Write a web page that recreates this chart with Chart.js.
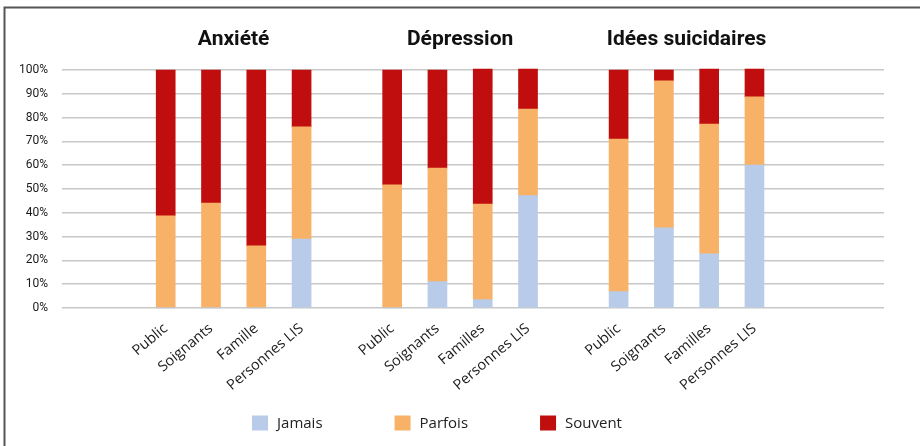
<!DOCTYPE html>
<html>
<head>
<meta charset="utf-8">
<script src="https://cdn.jsdelivr.net/npm/chart.js@4/dist/chart.umd.min.js"></script>
<style>
  html, body { margin: 0; padding: 0; background: #fff; }
  #wrap { width: 920px; height: 446px; position: relative; }
</style>
</head>
<body>
<div id="wrap"><canvas id="c"></canvas></div>
<script>
// Thematic groups and the respondents within each group
const groups = ['Anxiété', 'Dépression', 'Idées suicidaires'];
const groupLabels = [
  ['Public', 'Soignants', 'Famille', 'Personnes LIS'],
  ['Public', 'Soignants', 'Familles', 'Personnes LIS'],
  ['Public', 'Soignants', 'Familles', 'Personnes LIS']
];

// Shares (%) per answer, in the same order as the respondents above
const jamais  = [0, 0, 0, 29.0,     0, 11.1, 3.5, 47.2,     6.9, 33.7, 22.8, 60.1];
const parfois = [38.7, 44.1, 26.1, 47.1,   51.7, 47.7, 40.2, 36.4,   64.1, 61.7, 54.5, 28.6];
const souvent = [61.3, 55.9, 73.9, 23.9,   48.3, 41.2, 56.7, 16.8,   29.0, 4.6, 23.1, 11.7];

const seriesNames = ['Jamais', 'Parfois', 'Souvent'];
const yTickValues = [0, 10, 20, 30, 40, 50, 60, 70, 80, 90, 100];

// Slot of each bar on the x axis: one empty slot between groups
const GROUP_STRIDE = 5;
const positions = [];
const tickNames = [];
groupLabels.forEach((labels, gi) => {
  labels.forEach((name, i) => {
    positions.push(gi * GROUP_STRIDE + i);
    tickNames.push(name);
  });
});

const colors = ['#B8CBE9', '#F7B267', '#C00E0E'];
const seriesValues = [jamais, parfois, souvent];

const datasets = seriesNames.map((name, s) => ({
  label: name,
  data: seriesValues[s].map((v, i) => ({ x: positions[i], y: v })),
  backgroundColor: colors[s],
  borderWidth: 0,
  barThickness: 19,
  stack: 'all',
  clip: false
}));

// Frame around the figure
const framePlugin = {
  id: 'frame',
  beforeDraw(chart) {
    const ctx = chart.ctx;
    ctx.save();
    ctx.fillStyle = '#ffffff';
    ctx.fillRect(0, 0, chart.width, chart.height);
    ctx.strokeStyle = '#555555';
    ctx.lineWidth = 2;
    ctx.beginPath();
    ctx.moveTo(4.5, chart.height);
    ctx.lineTo(4.5, 7.5);
    ctx.lineTo(chart.width, 7.5);
    ctx.stroke();
    ctx.restore();
  }
};

// Group headings centred over their bars
const groupTitlePlugin = {
  id: 'groupTitles',
  afterDraw(chart) {
    const ctx = chart.ctx;
    const xs = chart.scales.x;
    ctx.save();
    ctx.fillStyle = '#111111';
    ctx.font = 'bold 21px Roboto, "DejaVu Sans", sans-serif';
    ctx.textAlign = 'center';
    ctx.textBaseline = 'middle';
    groups.forEach((g, gi) => {
      const first = gi * GROUP_STRIDE;
      const last = first + groupLabels[gi].length - 1;
      const cx = (xs.getPixelForValue(first) + xs.getPixelForValue(last)) / 2;
      ctx.fillText(g, cx, 40);
    });
    ctx.restore();
  }
};

// Legend row under the axis
const legendRowPlugin = {
  id: 'legendRow',
  afterDraw(chart) {
    const ctx = chart.ctx;
    const box = 16, boxH = 15, textGap = 9, itemGap = 72;
    ctx.save();
    ctx.font = '15px "Open Sans", sans-serif';
    ctx.textBaseline = 'middle';
    const ds = chart.data.datasets;
    const widths = ds.map(d => box + textGap + ctx.measureText(d.label).width);
    const total = widths.reduce((a, b) => a + b, 0) + itemGap * (ds.length - 1);
    let x = chart.width / 2 - 23 - total / 2;
    const cy = 423;
    ds.forEach((d, i) => {
      ctx.fillStyle = d.backgroundColor;
      ctx.fillRect(x, cy - boxH / 2, box, boxH);
      ctx.fillStyle = '#222222';
      ctx.fillText(d.label, x + box + textGap, cy + 1);
      x += widths[i] + itemGap;
    });
    ctx.restore();
  }
};

new Chart(document.getElementById('c'), {
  type: 'bar',
  data: { datasets },
  plugins: [framePlugin, groupTitlePlugin, legendRowPlugin],
  options: {
    responsive: true,
    maintainAspectRatio: false,
    animation: false,
    layout: { padding: { top: 70, right: 36, bottom: 43, left: 0 } },
    plugins: {
      legend: { display: false },
      tooltip: { enabled: false }
    },
    scales: {
      x: {
        type: 'linear',
        stacked: true,
        offset: false,
        min: -2.29,
        max: 15.86,
        grid: { display: false, offset: false },
        border: { display: false },
        afterBuildTicks(scale) {
          scale.ticks = positions.map(v => ({ value: v }));
        },
        afterFit(scale) { scale.height = 95; },
        ticks: {
          autoSkip: false,
          minRotation: 40,
          maxRotation: 40,
          padding: 4,
          color: '#1a1a1a',
          font: { family: '"Open Sans", sans-serif', size: 14.5 },
          callback: (value, index) => tickNames[index]
        }
      },
      y: {
        stacked: true,
        min: 0,
        max: 100,
        afterBuildTicks(scale) {
          scale.ticks = yTickValues.map(v => ({ value: v }));
        },
        afterFit(scale) { scale.width = 62; },
        grid: { color: '#c8c8c8', lineWidth: 1.5, drawTicks: false },
        border: { display: false },
        ticks: {
          padding: 14,
          color: '#1a1a1a',
          font: { family: 'Roboto, sans-serif', size: 12 },
          callback: v => v + '%'
        }
      }
    }
  }
});
</script>
</body>
</html>
